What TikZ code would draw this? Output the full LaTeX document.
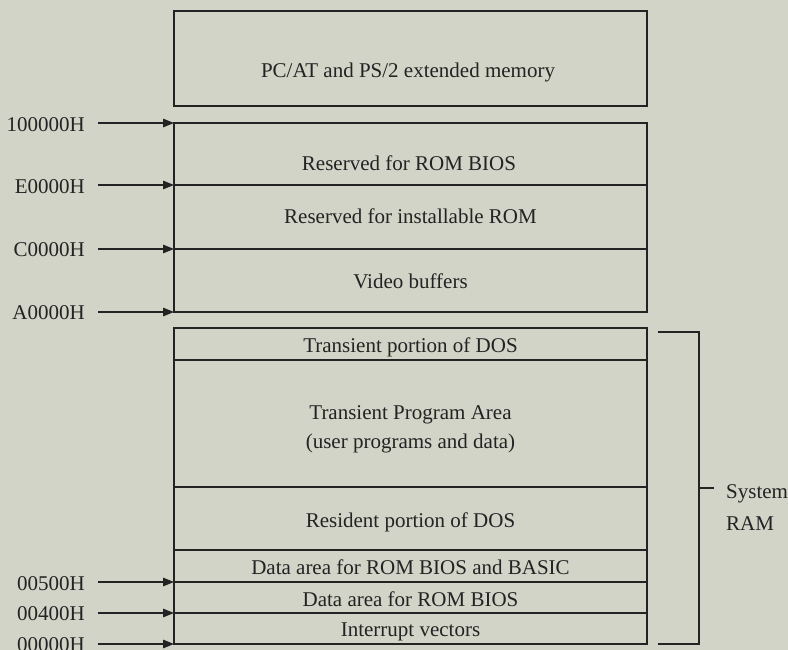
\documentclass[tikz,border=0pt]{standalone}
\usepackage{fontspec}
\setmainfont{Liberation Serif}
\usetikzlibrary{arrows.meta,calc}
\definecolor{bg}{RGB}{209,212,199}
\definecolor{ink}{RGB}{35,35,35}
\begin{document}
\begin{tikzpicture}[x=1pt,y=-1pt,
  region/.style={draw=ink, line width=1.2pt, minimum width=473pt, anchor=north west, inner sep=0pt, outer sep=0pt},
  txt/.style={text=ink, font=\fontsize{21}{25}\selectfont, anchor=base, inner sep=0pt},
  addr/.style={text=ink, font=\fontsize{21}{25}\selectfont, anchor=base east, inner sep=0pt},
  side/.style={text=ink, font=\fontsize{21}{25}\selectfont, anchor=base west, inner sep=0pt},
  ptr/.style={draw=ink, line width=1.2pt, -{Triangle[length=11pt,width=8.5pt]}},
  brk/.style={draw=ink, line width=1.2pt},
]
\fill[bg] (0,0) rectangle (788,650);
\useasboundingbox (0,0) rectangle (788,650);

% memory regions
\node[region, minimum height=95pt]  (ext)  at (174,11)  {};
\node[region, minimum height=62pt]  (rom)  at (174,123) {};
\node[region, minimum height=64pt]  (inst) at (174,185) {};
\node[region, minimum height=63pt]  (vid)  at (174,249) {};
\node[region, minimum height=32pt]  (tdos) at (174,328) {};
\node[region, minimum height=127pt] (tpa)  at (174,360) {};
\node[region, minimum height=63pt]  (res)  at (174,487) {};
\node[region, minimum height=32pt]  (dab)  at (174,550) {};
\node[region, minimum height=31pt]  (dar)  at (174,582) {};
\node[region, minimum height=31pt]  (ivt)  at (174,613) {};

% region texts
\node[txt] (t1)  at (408,78)  {PC/AT and PS/2 extended memory};
\node[txt] (t2)  at (409,171) {Reserved for ROM BIOS};
\node[txt] (t3)  at (410.5,224) {Reserved for installable ROM};
\node[txt] (t4)  at (410.5,288) {Video buffers};
\node[txt] (t5)  at (410.5,352) {Transient portion of DOS};
\node[txt] (t6)  at (410.5,419) {Transient Program Area};
\node[txt] (t6b) at (410.5,448) {(user programs and data)};
\node[txt] (t7)  at (410.5,527) {Resident portion of DOS};
\node[txt] (t8)  at (410.5,574) {Data area for ROM BIOS and BASIC};
\node[txt] (t9)  at (410.5,606) {Data area for ROM BIOS};
\node[txt] (t10) at (410.5,636) {Interrupt vectors};

% address labels
\node[addr] (a1) at (85,132) {100000H};
\node[addr] (a2) at (85,194) {E0000H};
\node[addr] (a3) at (85,257) {C0000H};
\node[addr] (a4) at (85,319) {A0000H};
\node[addr] (a5) at (85,590) {00500H};
\node[addr] (a6) at (85,620) {00400H};
\node[addr] (a7) at (85,651) {00000H};

% pointers
\draw[ptr] (a1.east |- rom.north west)  ++(13,0) -- (rom.north west);
\draw[ptr] (a2.east |- inst.north west) ++(13,0) -- (inst.north west);
\draw[ptr] (a3.east |- vid.north west)  ++(13,0) -- (vid.north west);
\draw[ptr] (a4.east |- vid.south west)  ++(13,0) -- (vid.south west);
\draw[ptr] (a5.east |- dar.north west)  ++(13,0) -- (dar.north west);
\draw[ptr] (a6.east |- ivt.north west)  ++(13,0) -- (ivt.north west);
\draw[ptr] (a7.east |- ivt.south west)  ++(13,0) -- (ivt.south west);

% system RAM bracket
\coordinate (bt) at ([xshift=11pt,yshift=-4pt]tdos.north east);
\coordinate (bb) at ([xshift=11pt]ivt.south east);
\draw[brk] (bt) -- ++(41,0) coordinate (btr) -- (btr |- bb) -- (bb);
\coordinate (bm) at ($(btr)!0.5!(btr |- bb)$);
\draw[brk] (bm) -- ++(15,0);
\node[side] (s1) at (726,498) {System};
\node[side] (s2) at (726,530) {RAM};
\end{tikzpicture}
\end{document}
